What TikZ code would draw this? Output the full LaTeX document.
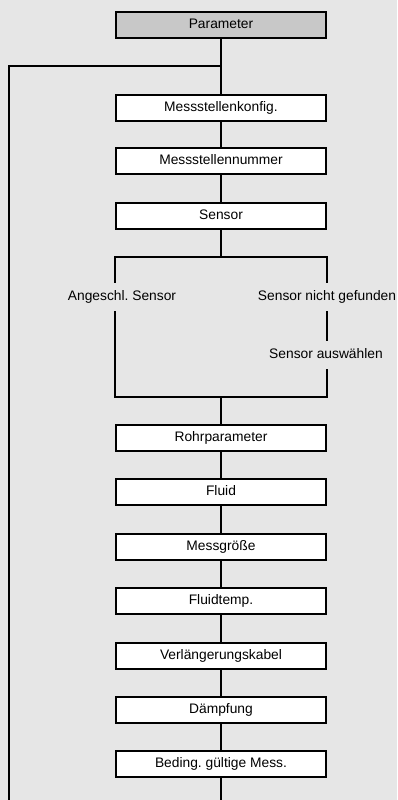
\documentclass[tikz,border=0pt]{standalone}
\usepackage{fontspec}
\setmainfont{Liberation Sans}
\usetikzlibrary{positioning}
\definecolor{bggray}{HTML}{E6E6E6}
\definecolor{headgray}{HTML}{C8C8C8}
\frenchspacing

\begin{document}
\begin{tikzpicture}[
  x=1pt, y=-1pt,
  every node/.style={font=\fontsize{13.8}{16}\selectfont},
  menubox/.style={draw, line width=2pt, fill=white, minimum width=210pt,
    minimum height=26pt, inner sep=0pt, text height=10pt, text depth=3pt},
  branchlabel/.style={inner xsep=0pt, inner ysep=7.5pt, text height=10pt, text depth=3pt},
  flow/.style={line width=2pt}
]
\fill[bggray] (0,0) rectangle (397,800);
\useasboundingbox (0,0) rectangle (397,800);
% Head of the menu and the return loop on the left.
\node[menubox, fill=headgray] (param) at (221,25.5) {Parameter};
\coordinate (loop) at (221,66);
\coordinate (loopL) at (9,66);
\coordinate (loopEnd) at (9,800);
\node[menubox] (konfig) at (221,107.5) {Messstellenkonfig.};
\node[menubox] (nummer) at (221,161) {Messstellennummer};
\node[menubox] (sensor) at (221,216) {Sensor};
\draw[flow] (param) -- (loop) -- (konfig);
\draw[flow] (loop) -- (loopL) -- (loopEnd);
\draw[flow] (konfig) -- (nummer);
\draw[flow] (nummer) -- (sensor);
% Sensor branch.
\coordinate (fork) at (221,257);
\coordinate (forkL) at (115,257);
\coordinate (forkR) at (327,257);
\coordinate (join) at (221,397);
\coordinate (joinL) at (115,397);
\coordinate (joinR) at (327,397);
\node[branchlabel] (angeschl) at (122,297) {Angeschl. Sensor};
\node[branchlabel] (nichtgef) at (327,297) {Sensor nicht gefunden};
\node[branchlabel] (auswahl) at (326,355) {Sensor auswählen};
\draw[flow] (sensor) -- (fork);
\draw[flow] (forkL |- angeschl.north) -- (forkL) -- (forkR) -- (forkR |- nichtgef.north);
\draw[flow] (joinL |- angeschl.south) -- (joinL) -- (joinR) -- (joinR |- auswahl.south);
\draw[flow] (forkR |- nichtgef.south) -- (forkR |- auswahl.north);
% Remaining menu items.
\foreach \name/\txt [count=\i] in {rohr/Rohrparameter, fluid/Fluid, groesse/Messgröße,
    temp/Fluidtemp., kabel/Verlängerungskabel, daempf/Dämpfung, beding/Beding. gültige Mess.}
  \node[menubox] (\name) at (221,{438+54.4*(\i-1)}) {\txt};
\coordinate (tail) at (221,800);
\draw[flow] (join) -- (rohr);
\foreach \a/\b in {rohr/fluid, fluid/groesse, groesse/temp, temp/kabel, kabel/daempf, daempf/beding}
  \draw[flow] (\a) -- (\b);
\draw[flow] (beding) -- (tail);
\end{tikzpicture}
\end{document}
